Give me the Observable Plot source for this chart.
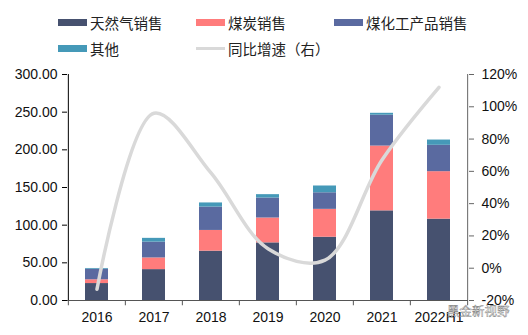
<!DOCTYPE html>
<html><head><meta charset="utf-8">
<script src="https://cdn.jsdelivr.net/npm/d3@7"></script>
<script src="https://cdn.jsdelivr.net/npm/@observablehq/plot@0.6"></script>
<style>
body{margin:0;background:#fff;width:528px;height:335px;overflow:hidden;position:relative;font-family:"Liberation Sans",Arial,sans-serif;}
#legend{position:absolute;left:0;top:0;width:528px;height:60px;font-family:"Noto Sans CJK SC",sans-serif;font-size:14.5px;color:#222;}
.item{position:absolute;display:flex;align-items:center;height:20px;}
.sw{width:29px;height:7px;margin-right:3px;}
.ln{width:29px;height:3px;margin-right:3px;background:#d9d9d9;}
#chart{position:absolute;left:0;top:60px;}
#wm{position:absolute;left:447px;top:301px;line-height:19px;font-family:"Noto Sans CJK SC",sans-serif;font-size:12.5px;color:rgba(255,255,255,0.85);-webkit-text-stroke:0.4px #777;}
</style></head>
<body>
<div id="legend"></div>
<div id="chart"></div>
<div id="wm">黑金新视野</div>
<script>
const years = ["2016","2017","2018","2019","2020","2021","2022H1"];
const gas   = [22.5, 41, 65.5, 76.5, 84, 119, 108];
const coal  = [5, 15.5, 27.5, 33, 37, 86, 63];
const chem  = [14, 21, 31, 26.5, 22, 41, 35];
const other = [1, 5, 5.5, 4.5, 9, 2.5, 7];
const growth = [-13, 96, 59, 12, 5, 67, 112];
const seriesNames = ["天然气销售","煤炭销售","煤化工产品销售","其他"];
const colors = ["#46516f","#ff7c7c","#5a6aa0","#4599b8"];
const lineName = "同比增速（右）";
const leftTicks = [0,50,100,150,200,250,300];
const rightTicks = [-20,0,20,40,60,80,100,120];

// legend
const legend = document.getElementById("legend");
const pos = [[58,12],[196,12],[334,12],[58,38]];
seriesNames.forEach((n,i)=>{
  const d=document.createElement("div");d.className="item";
  d.style.left=pos[i][0]+"px";d.style.top=pos[i][1]+"px";
  d.innerHTML=`<div class="sw" style="background:${colors[i]}"></div><span>${n}</span>`;
  legend.appendChild(d);
});
{
  const d=document.createElement("div");d.className="item";
  d.style.left="196px";d.style.top="38px";
  d.innerHTML=`<div class="ln"></div><span>${lineName}</span>`;
  legend.appendChild(d);
}

const rows = [];
years.forEach((y,i)=>{
  [gas,coal,chem,other].forEach((s,k)=>rows.push({year:y, series:seriesNames[k], value:s[i]}));
});
const toLeft = p => (p+20)/140*300;
const toPct = v => v/300*140-20;
const lineData = years.map((y,i)=>({year:y, v:toLeft(growth[i])}));

const W=528, H=275, mL=67, mR=60, mT=14, mB=35;
const step = (W-mL-mR)/years.length;
const first = years[0], last = years[years.length-1];

const plot = Plot.plot({
  width:W, height:H, marginLeft:mL, marginRight:mR, marginTop:mT, marginBottom:mB,
  style:{fontFamily:"'Liberation Sans', Arial, sans-serif", fontSize:"14px", color:"#111", background:"#fff", overflow:"visible"},
  x:{domain:years, paddingInner:0.6, paddingOuter:0.3, label:null},
  y:{domain:[0,300], label:null},
  color:{domain:seriesNames, range:colors},
  marks:[
    Plot.barY(rows,{x:"year", y:"value", fill:"series", order:seriesNames}),
    Plot.line(lineData,{x:"year", y:"v", stroke:"#d9d9d9", strokeWidth:3.5, curve:"catmull-rom"}),
    Plot.axisY({ticks:leftTicks, tickFormat:d=>d.toFixed(2), tickSize:5, tickPadding:5, stroke:"#000", label:null}),
    Plot.ruleX([first],{x:d=>d, dx:-step/2, y1:0, y2:300, stroke:"#000"}),
    Plot.axisY({anchor:"right", ticks:rightTicks.map(toLeft), tickFormat:v=>Math.round(toPct(v))+"%", tickSize:5, tickPadding:8, stroke:"#666", label:null}),
    Plot.ruleX([last],{x:d=>d, dx:step/2, y1:0, y2:300, stroke:"#666"}),
    Plot.axisX({tickSize:0, tickPadding:12, label:null}),
    Plot.ruleY([0],{stroke:"#555"}),
    Plot.ruleX(years,{x:d=>d, dx:-step/2, y1:0, y2:-7, stroke:"#555"}),
    Plot.ruleX([last],{x:d=>d, dx:step/2, y1:0, y2:-7, stroke:"#555"})
  ]
});
document.getElementById("chart").appendChild(plot);
</script>
</body></html>
